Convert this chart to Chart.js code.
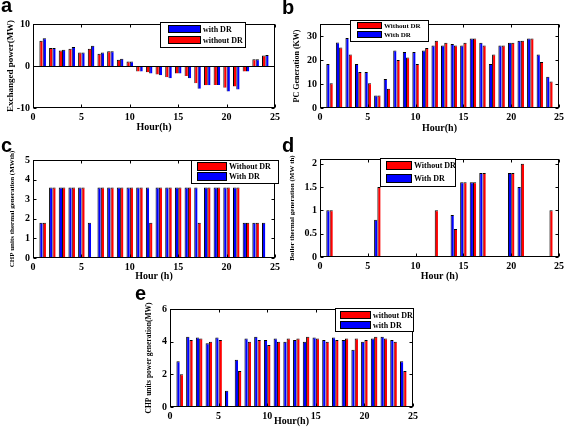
<!DOCTYPE html>
<html>
<head>
<meta charset="utf-8">
<script src="https://cdn.jsdelivr.net/npm/chart.js@4.4.1/dist/chart.umd.min.js"></script>
<style>
  body { margin: 0; background: #fff; }
  #lamina { position: relative; width: 567px; height: 427px; overflow: hidden; background: #fff; }
  canvas { position: absolute; }
  .letra { position: absolute; font: bold 20px "Liberation Sans", Arial, sans-serif; line-height: 20px; color: #000; }
</style>
</head>
<body>
<div id="lamina">
  <canvas id="panel-a"></canvas>
  <canvas id="panel-b"></canvas>
  <canvas id="panel-c"></canvas>
  <canvas id="panel-d"></canvas>
  <canvas id="panel-e"></canvas>
  <div class="letra" style="left:1px; top:-5px">a</div>
  <div class="letra" style="left:282px; top:-3px">b</div>
  <div class="letra" style="left:1px; top:135px">c</div>
  <div class="letra" style="left:282px; top:135px">d</div>
  <div class="letra" style="left:135px; top:283px">e</div>
</div>
<script>
// Horas del día (eje x de todos los paneles)
const horas = [1, 2, 3, 4, 5, 6, 7, 8, 9, 10, 11, 12, 13, 14, 15, 16, 17, 18, 19, 20, 21, 22, 23, 24]
const ticksHora = [0, 5, 10, 15, 20, 25]

// a: potencia intercambiada (MW)
const aSinDR = [6.0, 4.3, 3.7, 4.1, 3.2, 4.1, 2.9, 3.5, 1.5, 1.1, -1.3, -1.5, -2.0, -2.7, -1.8, -2.4, -4.1, -4.6, -4.5, -5.2, -4.9, -1.3, 1.6, 2.5]
const aConDR = [6.6, 4.3, 3.85, 4.5, 3.2, 4.8, 3.2, 3.5, 1.7, 1.1, -1.3, -1.8, -2.2, -2.9, -1.8, -2.9, -5.4, -4.6, -4.5, -6.1, -5.6, -1.3, 1.6, 2.6]
const aTicksY = [-10, 0, 10]

// b: generación PC (KW)
const bConDR = [18.3, 27.3, 29.2, 18.3, 15, 5.2, 12.1, 24, 23.3, 23.3, 24, 26, 26, 26.7, 26, 29, 27.2, 18.3, 26, 27.2, 28, 29, 22.3, 13]
const bSinDR = [10.3, 25.2, 22.3, 15, 10.3, 5.2, 8, 20, 21, 18.3, 25, 28, 27.2, 26, 27.2, 29, 26, 22.3, 26, 27.2, 28, 29, 19.2, 11]
const bTicksY = [0, 10, 20, 30]

// c: generación térmica CHP (MWth)
const cConDR = [1.8, 3.6, 3.6, 3.6, 3.6, 1.8, 3.6, 3.6, 3.6, 3.6, 3.6, 3.6, 3.6, 3.6, 3.6, 3.6, 3.6, 3.6, 3.6, 3.6, 3.6, 1.8, 1.8, 1.8]
const cSinDR = [1.8, 3.6, 3.6, 3.6, 3.6, null, 3.6, 3.6, 3.6, 3.6, 3.6, 1.8, 3.6, 3.6, 3.6, 3.6, 1.8, 3.6, 3.6, 3.6, 3.6, 1.8, 1.8, null]
const cTicksY = [0, 1, 2, 3, 4, 5]

// d: generación térmica de la caldera (MW th)
const dConDR = [1, null, null, null, null, 0.8, null, null, null, null, null, null, null, 0.9, 1.6, 1.6, 1.8, null, null, 1.8, 1.5, null, null, null]
const dSinDR = [1, null, null, null, null, 1.5, null, null, null, null, null, 1, null, 0.6, 1.6, 1.6, 1.8, null, null, 1.8, 2.0, null, null, 1]
const dTicksY = [0, 0.5, 1, 1.5, 2]

// e: generación eléctrica CHP (MW)
const eConDR = [2.8, 4.3, 4.25, 3.9, 4.25, 1.0, 2.9, 4.2, 4.3, 4.1, 4.2, 4.0, 4.1, 4.0, 4.25, 4.1, 4.25, 4.1, 3.5, 4.0, 4.2, 4.3, 4.1, 2.8]
const eSinDR = [2.0, 4.1, 4.2, 4.0, 4.1, null, 2.2, 4.0, 4.1, 3.8, 4.0, 4.2, 4.2, 4.3, 4.2, 4.0, 4.1, 4.2, 4.2, 4.1, 4.3, 4.2, 4.0, 2.2]
const eTicksY = [0, 2, 4, 6]

const ROJO = '#ff0000'
const AZUL = '#0000ff'
const SERIF = '"Liberation Serif", "Times New Roman", serif'

// Caja estilo MATLAB: marco, ticks hacia dentro, línea de cero y leyenda
const marcoMatlab = {
  id: 'marcoMatlab',
  afterDraw(chart, args, opts) {
    const { ctx, chartArea: a, scales } = chart
    const L = Math.round(a.left) + 0.5, R = Math.round(a.right) - 0.5
    const T = Math.round(a.top) + 0.5, B = Math.round(a.bottom) - 0.5
    ctx.save()
    ctx.strokeStyle = '#000'
    ctx.lineWidth = 1

    if (opts.cero) {
      const y0 = Math.round(scales.y.getPixelForValue(0)) + 0.5
      ctx.beginPath(); ctx.moveTo(L, y0); ctx.lineTo(R, y0); ctx.stroke()
    }

    ctx.strokeRect(L, T, R - L, B - T)
    ctx.beginPath()
    scales.x.ticks.forEach(t => {
      const x = Math.round(scales.x.getPixelForValue(t.value)) + 0.5
      ctx.moveTo(x, B); ctx.lineTo(x, B - 3)
      ctx.moveTo(x, T); ctx.lineTo(x, T + 3)
    })
    scales.y.ticks.forEach(t => {
      const y = Math.round(scales.y.getPixelForValue(t.value)) + 0.5
      ctx.moveTo(L, y); ctx.lineTo(L + 3, y)
      ctx.moveTo(R, y); ctx.lineTo(R - 3, y)
    })
    ctx.stroke()

    const ley = opts.leyenda
    if (ley) {
      const ox = ley.origen.x, oy = ley.origen.y
      ctx.fillStyle = '#fff'
      ctx.fillRect(ley.x - ox, ley.y - oy, ley.w, ley.h)
      ctx.strokeRect(ley.x - ox + 0.5, ley.y - oy + 0.5, ley.w, ley.h)
      ctx.font = 'bold ' + ley.tam + 'px ' + SERIF
      ctx.textBaseline = 'middle'
      ley.items.forEach((it, i) => {
        const sx = ley.sx - ox, sy = ley.filas[i] - oy
        ctx.fillStyle = it.color
        ctx.fillRect(sx, sy, ley.sw, ley.sh)
        ctx.strokeRect(sx + 0.5, sy + 0.5, ley.sw, ley.sh)
        ctx.fillStyle = '#000'
        ctx.fillText(it.texto, sx + ley.sw + 3, sy + ley.sh / 2 + 1)
      })
    }
    ctx.restore()
  }
}

function crearPanel(id, lienzo, area, cfg) {
  const canvas = document.getElementById(id)
  canvas.width = lienzo.w
  canvas.height = lienzo.h
  canvas.style.left = lienzo.x + 'px'
  canvas.style.top = lienzo.y + 'px'

  const series = cfg.series.map(s => ({
    label: s.nombre,
    data: horas.map((h, i) => ({ x: h, y: s.valores[i] })),
    backgroundColor: s.color,
    borderColor: '#000',
    borderWidth: { left: 1, top: 1, right: 0, bottom: 0 },
    categoryPercentage: 0.68,
    barPercentage: 1
  }))

  if (cfg.leyenda) cfg.leyenda.origen = { x: lienzo.x, y: lienzo.y }

  return new Chart(canvas, {
    type: 'bar',
    data: { datasets: series },
    options: {
      responsive: false,
      animation: false,
      layout: { padding: { top: area.y0 - lienzo.y, right: lienzo.x + lienzo.w - area.x1, left: 0, bottom: 0 } },
      plugins: {
        legend: { display: false },
        tooltip: { enabled: false },
        marcoMatlab: { cero: cfg.cero, leyenda: cfg.leyenda }
      },
      scales: {
        x: {
          type: 'linear',
          min: 0,
          max: 25,
          offset: false,
          grid: { display: false, drawTicks: false },
          border: { display: false },
          afterBuildTicks: s => { s.ticks = ticksHora.map(v => ({ value: v })) },
          afterFit: s => { s.height = lienzo.y + lienzo.h - area.y1 },
          ticks: { color: '#000', padding: 3, maxRotation: 0, font: { family: SERIF, size: cfg.tamTick, weight: 'bold' }, callback: v => String(v) },
          title: { display: true, text: cfg.tituloX, color: '#000', padding: { top: 0, bottom: cfg.padTituloX }, font: { family: SERIF, size: 10, weight: 'bold' } }
        },
        y: {
          min: cfg.yMin,
          max: cfg.yMax,
          grid: { display: false, drawTicks: false },
          border: { display: false },
          afterBuildTicks: s => { s.ticks = cfg.ticksY.map(v => ({ value: v })) },
          afterFit: s => { s.width = area.x0 - lienzo.x },
          ticks: { color: '#000', padding: 3, font: { family: SERIF, size: cfg.tamTick, weight: 'bold' }, callback: v => String(v) },
          title: { display: true, text: cfg.tituloY, color: '#000', padding: { top: cfg.padTituloY, bottom: 0 }, font: { family: SERIF, size: cfg.tamTituloY, weight: 'bold' } }
        }
      }
    },
    plugins: [marcoMatlab]
  })
}

// Panel a
crearPanel('panel-a', { x: 0, y: 15, w: 283, h: 125 }, { x0: 33, x1: 278, y0: 22, y1: 108 }, {
  series: [
    { nombre: 'without DR', valores: aSinDR, color: ROJO },
    { nombre: 'with DR', valores: aConDR, color: AZUL }
  ],
  yMin: -10, yMax: 10, ticksY: aTicksY, cero: true, tamTick: 10,
  tituloX: 'Hour(h)', padTituloX: 7,
  tituloY: 'Exchanged power(MW)', padTituloY: 5, tamTituloY: 9,
  leyenda: {
    x: 160, y: 22, w: 85, h: 25, sx: 168, sw: 32, sh: 7, filas: [25, 36], tam: 8,
    items: [{ texto: 'with DR', color: AZUL }, { texto: 'without DR', color: ROJO }]
  }
})

// Panel b
crearPanel('panel-b', { x: 283, y: 15, w: 284, h: 125 }, { x0: 320, x1: 561, y0: 20, y1: 108 }, {
  series: [
    { nombre: 'With DR', valores: bConDR, color: AZUL },
    { nombre: 'Without DR', valores: bSinDR, color: ROJO }
  ],
  yMin: 0, yMax: 35, ticksY: bTicksY, cero: false, tamTick: 10,
  tituloX: 'Hour(h)', padTituloX: 6,
  tituloY: 'PC Generation (KW)', padTituloY: 9, tamTituloY: 8,
  leyenda: {
    x: 350, y: 20, w: 78, h: 21, sx: 357, sw: 24, sh: 6, filas: [22, 31], tam: 7,
    items: [{ texto: 'Without DR', color: ROJO }, { texto: 'With DR', color: AZUL }]
  }
})

// Panel c
crearPanel('panel-c', { x: 0, y: 150, w: 283, h: 135 }, { x0: 33, x1: 278, y0: 160, y1: 258 }, {
  series: [
    { nombre: 'With DR', valores: cConDR, color: AZUL },
    { nombre: 'Without DR', valores: cSinDR, color: ROJO }
  ],
  yMin: 0, yMax: 5, ticksY: cTicksY, cero: false, tamTick: 10,
  tituloX: 'Hour (h)', padTituloX: 3,
  tituloY: 'CHP units thermal generation (MWth)', padTituloY: 8, tamTituloY: 7,
  leyenda: {
    x: 191, y: 160, w: 87, h: 23, sx: 197, sw: 29, sh: 8, filas: [162, 172], tam: 8,
    items: [{ texto: 'Without DR', color: ROJO }, { texto: 'With DR', color: AZUL }]
  }
})

// Panel d
crearPanel('panel-d', { x: 283, y: 150, w: 284, h: 135 }, { x0: 320, x1: 561, y0: 158, y1: 257 }, {
  series: [
    { nombre: 'With DR', valores: dConDR, color: AZUL },
    { nombre: 'Without DR', valores: dSinDR, color: ROJO }
  ],
  yMin: 0, yMax: 2.1, ticksY: dTicksY, cero: false, tamTick: 10,
  tituloX: 'Hour (h)', padTituloX: 3,
  tituloY: 'Boiler thermal generation (MW th)', padTituloY: 5, tamTituloY: 7,
  leyenda: {
    x: 380, y: 158, w: 75, h: 28, sx: 386, sw: 25, sh: 8, filas: [161, 174], tam: 8,
    items: [{ texto: 'Without DR', color: ROJO }, { texto: 'With DR', color: AZUL }]
  }
})

// Panel e
crearPanel('panel-e', { x: 120, y: 300, w: 330, h: 127 }, { x0: 170, x1: 413, y0: 308, y1: 407 }, {
  series: [
    { nombre: 'with DR', valores: eConDR, color: AZUL },
    { nombre: 'without DR', valores: eSinDR, color: ROJO }
  ],
  yMin: 0, yMax: 6, ticksY: eTicksY, cero: false, tamTick: 10,
  tituloX: 'Hour(h)', padTituloX: 0,
  tituloY: 'CHP units power generation(MW)', padTituloY: 25, tamTituloY: 7.5,
  leyenda: {
    x: 335, y: 308, w: 78, h: 23, sx: 340, sw: 30, sh: 7, filas: [311, 321], tam: 8,
    items: [{ texto: 'without DR', color: ROJO }, { texto: 'with DR', color: AZUL }]
  }
})
</script>
</body>
</html>
